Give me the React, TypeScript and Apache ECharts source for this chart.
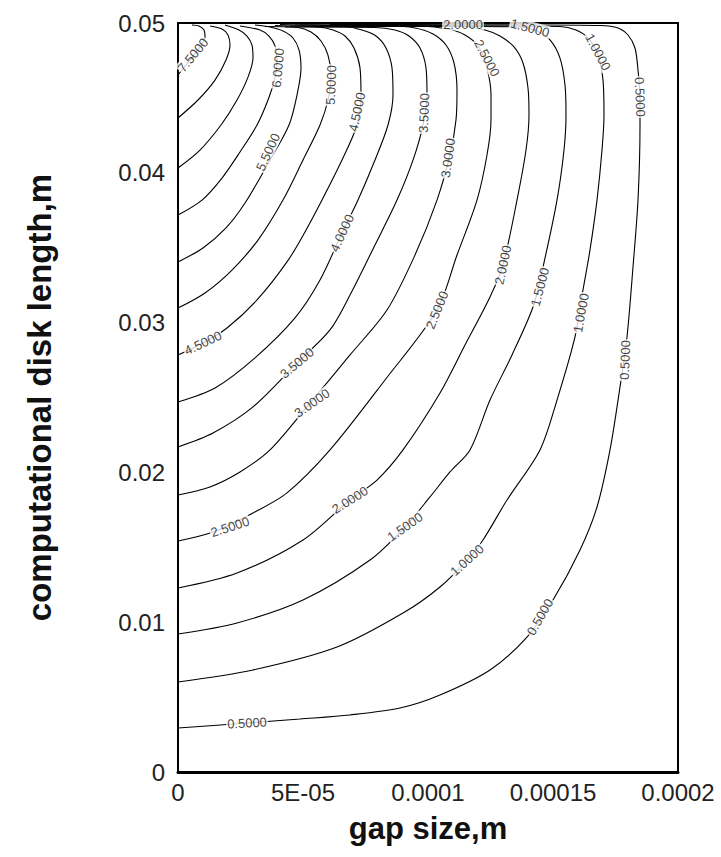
import React, { useEffect, useRef } from "react";
import * as echarts from "echarts";

const FONT = "'Liberation Sans', Arial, Helvetica, sans-serif";

const xTickLabels = ["0", "5E-05", "0.0001", "0.00015", "0.0002"];
const yTickLabels = ["0", "0.01", "0.02", "0.03", "0.04", "0.05"];
const contourLevels = [0.5, 1.0, 1.5, 2.0, 2.5, 3.0, 3.5, 4.0, 4.5, 5.0, 5.5, 6.0, 6.5, 7.0, 7.5];

// contour lines [gap size (m), disk length (m)]
const c050 = [[0, 0.00294], [0.0000276, 0.00327], [0.0000488, 0.00354], [0.0000688, 0.00381], [0.0000888, 0.00427], [0.0001048, 0.00514], [0.0001248, 0.00681], [0.0001396, 0.00901], [0.00015, 0.01148], [0.0001608, 0.01482], [0.0001676, 0.01769], [0.0001728, 0.0215], [0.0001768, 0.0257], [0.0001796, 0.02904], [0.000182, 0.03371], [0.000184, 0.03818], [0.0001848, 0.04319], [0.0001848, 0.04506], [0.000184, 0.04686], [0.0001828, 0.04833], [0.00018, 0.0492], [0.000176, 0.04967], [0.0001688, 0.04983], [0.0001448, 0.04987], [0.0000608, 0.0499]];
const c100 = [[0, 0.00601], [0.00003, 0.00681], [0.0000636, 0.00834], [0.00009, 0.01061], [0.0001048, 0.01235], [0.0001156, 0.01415], [0.000122, 0.01549], [0.0001316, 0.01816], [0.0001448, 0.0215], [0.0001516, 0.02483], [0.0001588, 0.02904], [0.000162, 0.03218], [0.0001648, 0.03485], [0.0001676, 0.03818], [0.0001696, 0.04152], [0.0001704, 0.04386], [0.00017, 0.04619], [0.000168, 0.04786], [0.000164, 0.049], [0.0001592, 0.04953], [0.0001528, 0.04977], [0.0001288, 0.0498], [0.0000568, 0.04983]];
const c150 = [[0, 0.00921], [0.0000236, 0.00995], [0.00005, 0.01148], [0.0000768, 0.01415], [0.0000908, 0.01636], [0.0001008, 0.01836], [0.0001088, 0.02003], [0.0001168, 0.0215], [0.0001248, 0.02483], [0.0001336, 0.02784], [0.000142, 0.03104], [0.000146, 0.03371], [0.0001516, 0.03818], [0.0001544, 0.04152], [0.0001552, 0.04386], [0.0001548, 0.04586], [0.0001528, 0.04766], [0.0001488, 0.04887], [0.0001436, 0.04947], [0.0001368, 0.04973], [0.0001208, 0.04977], [0.0000528, 0.04977]];
const c200 = [[0, 0.01228], [0.0000236, 0.01328], [0.00005, 0.01549], [0.0000688, 0.01816], [0.0000796, 0.01949], [0.00009, 0.0215], [0.0001048, 0.0253], [0.0001148, 0.0285], [0.0001248, 0.03171], [0.00013, 0.03385], [0.0001356, 0.03818], [0.0001392, 0.04152], [0.0001404, 0.04386], [0.00014, 0.04566], [0.000138, 0.04733], [0.0001344, 0.0484], [0.0001288, 0.04913], [0.0001228, 0.04953], [0.0001128, 0.0498], [0.0000888, 0.0499], [0.0000488, 0.04993]];
const c250 = [[0, 0.01542], [0.000014, 0.01602], [0.00003, 0.01729], [0.0000436, 0.01863], [0.0000608, 0.0215], [0.0000828, 0.02617], [0.0001036, 0.03084], [0.0001116, 0.03451], [0.0001196, 0.03818], [0.0001236, 0.04119], [0.0001252, 0.04353], [0.0001252, 0.04519], [0.0001236, 0.047], [0.0001204, 0.0484], [0.0001148, 0.0492], [0.000108, 0.0496], [0.0000968, 0.0498], [0.0000468, 0.04987]];
const c300 = [[0, 0.01849], [0.0000128, 0.01903], [0.0000248, 0.02003], [0.0000368, 0.0215], [0.0000528, 0.02463], [0.0000688, 0.02784], [0.0000836, 0.03084], [0.0000948, 0.03451], [0.0001036, 0.03818], [0.0001088, 0.04119], [0.0001112, 0.04353], [0.0001116, 0.04553], [0.0001104, 0.04733], [0.0001072, 0.04853], [0.000102, 0.04927], [0.0000948, 0.04967], [0.0000848, 0.0498], [0.0000448, 0.0498]];
const c350 = [[0, 0.0217], [0.000014, 0.02263], [0.00003, 0.02437], [0.0000476, 0.0273], [0.0000608, 0.02951], [0.0000688, 0.03184], [0.0000788, 0.03518], [0.0000876, 0.03818], [0.000094, 0.04085], [0.000098, 0.04319], [0.0000996, 0.04519], [0.0000992, 0.047], [0.0000968, 0.04833], [0.0000924, 0.04913], [0.0000868, 0.04953], [0.0000788, 0.0497], [0.0000428, 0.04973]];
const c400 = [[0, 0.0247], [0.0000148, 0.02563], [0.0000308, 0.02764], [0.0000468, 0.03031], [0.0000568, 0.03284], [0.0000656, 0.03598], [0.000072, 0.03818], [0.0000788, 0.04085], [0.000084, 0.04319], [0.000086, 0.04519], [0.0000856, 0.047], [0.0000832, 0.04833], [0.0000792, 0.04913], [0.0000736, 0.04953], [0.0000668, 0.04977], [0.0000408, 0.0499]];
const c450 = [[0, 0.02784], [0.00001, 0.02864], [0.0000196, 0.02964], [0.0000316, 0.03151], [0.0000436, 0.03405], [0.0000508, 0.03605], [0.0000576, 0.03818], [0.0000656, 0.04085], [0.0000716, 0.04319], [0.0000732, 0.04519], [0.0000728, 0.047], [0.0000704, 0.04833], [0.0000668, 0.04913], [0.000062, 0.04953], [0.000056, 0.04973], [0.0000388, 0.04983]];
const c500 = [[0, 0.03097], [0.0000108, 0.03198], [0.0000216, 0.03351], [0.000032, 0.03551], [0.000042, 0.03818], [0.00005, 0.04085], [0.0000568, 0.04319], [0.00006, 0.04486], [0.0000612, 0.04653], [0.00006, 0.04786], [0.0000572, 0.0488], [0.0000532, 0.0494], [0.000048, 0.0497], [0.0000348, 0.04977]];
const c550 = [[0, 0.03405], [0.00001, 0.03498], [0.0000192, 0.03632], [0.0000268, 0.03798], [0.0000368, 0.04085], [0.0000444, 0.04319], [0.0000476, 0.04519], [0.0000492, 0.047], [0.0000484, 0.0482], [0.000046, 0.049], [0.000042, 0.04947], [0.0000368, 0.04973], [0.0000308, 0.04987]];
const c600 = [[0, 0.03718], [0.0000096, 0.03818], [0.0000176, 0.03965], [0.0000248, 0.04139], [0.0000316, 0.04319], [0.000036, 0.04486], [0.0000388, 0.04633], [0.0000396, 0.04753], [0.0000388, 0.04847], [0.0000364, 0.04913], [0.0000328, 0.04953], [0.0000248, 0.0498]];
const c650 = [[0, 0.04032], [0.0000088, 0.04152], [0.0000172, 0.04319], [0.0000236, 0.04486], [0.000028, 0.04639], [0.00003, 0.04766], [0.0000296, 0.04853], [0.0000276, 0.04913], [0.0000244, 0.04953], [0.0000188, 0.04987]];
const c700 = [[0, 0.04366], [0.000008, 0.04486], [0.0000148, 0.04619], [0.0000192, 0.04753], [0.0000208, 0.04853], [0.00002, 0.0492], [0.0000176, 0.0496], [0.0000128, 0.0498]];
const c750 = [[0, 0.04653], [0.0000048, 0.04753], [0.0000088, 0.0484], [0.0000108, 0.04907], [0.0000104, 0.04953], [0.0000084, 0.0498], [0.0000056, 0.04987]];

const contours = [c050, c100, c150, c200, c250, c300, c350, c400, c450, c500, c550, c600, c650, c700, c750];

// contour value labels: anchor [gap size, disk length], text, angle
const labelPos = [
  [0.000006, 0.04786], [0.00004, 0.047], [0.000036, 0.04139], [0.0000612, 0.04586],
  [0.0000716, 0.04406], [0.0000984, 0.04399], [0.0000656, 0.03598], [0.00001, 0.02864],
  [0.0000476, 0.0273], [0.0000536, 0.02463], [0.0001036, 0.03084], [0.000108, 0.04099],
  [0.00013, 0.03385], [0.0001448, 0.03238], [0.0001612, 0.03064], [0.0001788, 0.0275],
  [0.0001848, 0.04506], [0.000168, 0.04806], [0.0001236, 0.04766], [0.0001408, 0.04967],
  [0.000114, 0.04993], [0.0000208, 0.01636], [0.0000688, 0.01816], [0.0000908, 0.01636],
  [0.0001156, 0.01415], [0.0001448, 0.01035], [0.0000276, 0.00327],
];
const labelText = [
  "7.5000", "6.0000", "5.5000", "5.0000",
  "4.5000", "3.5000", "4.0000", "4.5000",
  "3.5000", "3.0000", "2.5000", "3.0000",
  "2.0000", "1.5000", "1.0000", "0.5000",
  "0.5000", "1.0000", "2.5000", "1.5000",
  "2.0000", "2.5000", "2.0000", "1.5000",
  "1.0000", "0.5000", "0.5000",
];
const labelAngle = [
  50, 85, 65, 88,
  78, 88, 65, 25,
  40, 35, 68, 82,
  78, 75, 80, 88,
  -88, -62, -62, -15,
  0, 18, 32, 35,
  42, 60, 3,
];

export default function App() {
  const ref = useRef<HTMLDivElement>(null);
  useEffect(() => {
    document.body.style.margin = "0";
    const chart = echarts.init(ref.current as HTMLDivElement, null, { renderer: "svg" });
    const lineSeries = contours.map((d, i) => ({
      type: "line",
      name: contourLevels[i].toFixed(4),
      data: d,
      showSymbol: false,
      symbol: "none",
      smooth: 0.3,
      clip: false,
      silent: true,
      z: 2,
      lineStyle: { color: "#000", width: 1.1 },
    }));
    const labelSeries = {
      type: "scatter",
      data: labelPos.map((p, i) => ({ value: p, name: labelText[i], label: { rotate: labelAngle[i] } })),
      symbolSize: 1,
      itemStyle: { color: "rgba(0,0,0,0)" },
      silent: true,
      clip: false,
      z: 5,
      label: {
        show: true,
        position: "inside",
        formatter: (p: any) => p.name,
        fontSize: 13,
        fontFamily: FONT,
        color: "#111",
        textBorderWidth: 0,
        textBorderColor: "transparent",
        backgroundColor: "#fff",
        padding: [0, 1],
      },
    };
    chart.setOption({
      animation: false,
      backgroundColor: "#fff",
      grid: {
        left: 178,
        top: 23,
        width: 500,
        height: 749,
        show: true,
        borderColor: "#000",
        borderWidth: 2,
        backgroundColor: "transparent",
      },
      xAxis: {
        type: "value",
        min: 0,
        max: 0.0002,
        interval: 0.00005,
        axisLine: { show: true, lineStyle: { color: "#000", width: 3 } },
        axisTick: { show: false },
        splitLine: { show: false },
        axisLabel: {
          formatter: (v: number) => xTickLabels[Math.round(v / 0.00005)],
          fontSize: 24,
          color: "#222",
          fontFamily: FONT,
          margin: 8,
        },
        name: "gap size,m",
        nameLocation: "middle",
        nameGap: 41,
        nameTextStyle: { fontSize: 31, fontWeight: "bold", color: "#111", fontFamily: FONT },
      },
      yAxis: {
        type: "value",
        min: 0,
        max: 0.05,
        interval: 0.01,
        axisLine: { show: true, lineStyle: { color: "#000", width: 2 } },
        axisTick: { show: false },
        splitLine: { show: false },
        axisLabel: {
          formatter: (v: number) => yTickLabels[Math.round(v / 0.01)],
          fontSize: 24,
          color: "#222",
          fontFamily: FONT,
          margin: 13,
        },
        name: "computational disk length,m",
        nameLocation: "middle",
        nameGap: 122,
        nameRotate: 90,
        nameTextStyle: { fontSize: 33, fontWeight: "bold", color: "#111", fontFamily: FONT },
      },
      series: [...lineSeries, labelSeries],
    });
    return () => chart.dispose();
  }, []);
  return <div ref={ref} style={{ width: 721, height: 857 }} />;
}
